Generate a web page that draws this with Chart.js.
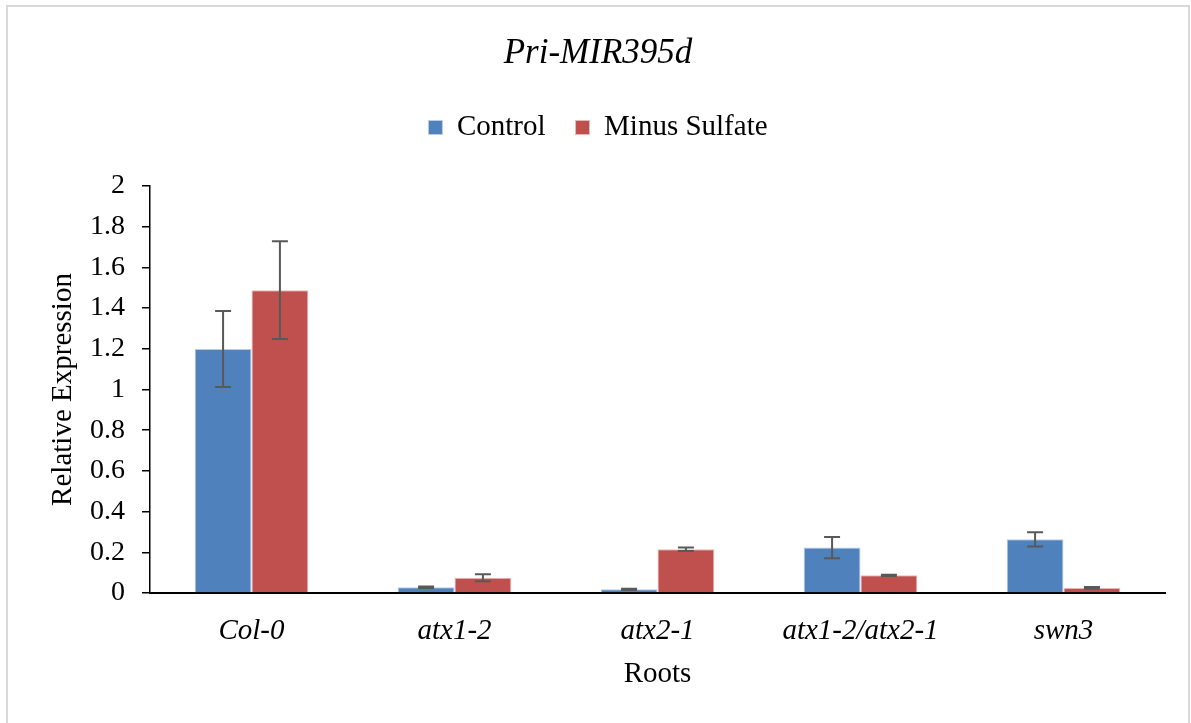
<!DOCTYPE html>
<html>
<head>
<meta charset="utf-8">
<script src="https://cdn.jsdelivr.net/npm/chart.js@4"></script>
<style>
  html, body { margin: 0; padding: 0; background: #ffffff; }
  #wrap { width: 1191px; height: 723px; position: relative; }
</style>
</head>
<body>
<div id="wrap"><canvas id="c" width="1191" height="723"></canvas></div>
<script>
const categories = ['Col-0', 'atx1-2', 'atx2-1', 'atx1-2/atx2-1', 'swn3'];
const controlValues = [1.199, 0.028, 0.018, 0.223, 0.264];
const controlErrors = [0.187, 0.004, 0.003, 0.052, 0.035];
const minusSulfateValues = [1.488, 0.075, 0.215, 0.087, 0.025];
const minusSulfateErrors = [0.240, 0.017, 0.008, 0.003, 0.004];
const yTicks = [0, 0.2, 0.4, 0.6, 0.8, 1, 1.2, 1.4, 1.6, 1.8, 2];

const serif = "'Liberation Serif', 'Times New Roman', serif";

const frame = {
  id: 'frame',
  beforeDraw(chart) {
    const ctx = chart.ctx;
    ctx.save();
    ctx.fillStyle = '#ffffff';
    ctx.fillRect(0, 0, chart.width, chart.height);
    ctx.strokeStyle = '#d9d9d9';
    ctx.lineWidth = 2;
    ctx.strokeRect(7, 6, 1182, 730);
    ctx.restore();
  }
};

const legendSpace = {
  id: 'legendSpace',
  beforeLayout(chart) {
    const lg = chart.legend;
    if (lg && !lg._patched) {
      const f = lg.fit;
      lg.fit = function () { f.call(this); this.height = 103; };
      lg._patched = true;
    }
  }
};

const errorBars = {
  id: 'errorBars',
  afterDatasetsDraw(chart) {
    const ctx = chart.ctx;
    const y = chart.scales.y;
    ctx.save();
    ctx.strokeStyle = '#595959';
    ctx.lineWidth = 2;
    chart.data.datasets.forEach((ds, di) => {
      const meta = chart.getDatasetMeta(di);
      meta.data.forEach((bar, i) => {
        const v = ds.data[i], e = ds.errors[i];
        const yt = y.getPixelForValue(v + e);
        const yb = y.getPixelForValue(v - e);
        const x = bar.x;
        ctx.beginPath();
        ctx.moveTo(x, yt); ctx.lineTo(x, yb);
        ctx.moveTo(x - 8, yt); ctx.lineTo(x + 8, yt);
        ctx.moveTo(x - 8, yb); ctx.lineTo(x + 8, yb);
        ctx.stroke();
      });
    });
    ctx.restore();
  }
};

new Chart(document.getElementById('c'), {
  type: 'bar',
  data: {
    labels: categories,
    datasets: [
      { label: 'Control', data: controlValues, errors: controlErrors,
        backgroundColor: '#4f81bd', borderColor: '#b9cde5', borderWidth: 1 },
      { label: 'Minus Sulfate', data: minusSulfateValues, errors: minusSulfateErrors,
        backgroundColor: '#c0504d', borderColor: '#e6b9b8', borderWidth: 1 }
    ]
  },
  options: {
    responsive: false,
    animation: false,
    devicePixelRatio: 1,
    layout: { padding: { left: 31, right: 26, top: 0, bottom: 0 } },
    datasets: { bar: { categoryPercentage: 0.56, barPercentage: 1.0 } },
    plugins: {
      title: {
        display: true,
        text: 'Pri-MIR395d',
        color: '#000000',
        font: { family: serif, size: 35, style: 'italic', weight: 'normal' },
        padding: { top: 33, bottom: 8 }
      },
      legend: {
        display: true,
        labels: {
          color: '#000000',
          font: { family: serif, size: 29 },
          boxWidth: 14, boxHeight: 14,
          padding: 30
        }
      },
      tooltip: { enabled: false }
    },
    scales: {
      x: {
        afterFit(scale) { scale.height = 130; },
        grid: { display: false },
        border: { display: true, color: '#000000', width: 2 },
        ticks: {
          color: '#000000',
          font: { family: serif, size: 29, style: 'italic' },
          padding: 13,
          maxRotation: 0
        },
        title: {
          display: true,
          text: 'Roots',
          color: '#000000',
          font: { family: serif, size: 29 },
          padding: { top: 0, bottom: 31 }
        }
      },
      y: {
        min: 0, max: 2,
        afterBuildTicks(scale) { scale.ticks = yTicks.map(v => ({ value: v })); },
        afterFit(scale) { scale.width = 119; },
        grid: { display: true, drawOnChartArea: false, drawTicks: true, tickLength: 8, color: '#000000', lineWidth: 1.5 },
        border: { display: true, color: '#000000', width: 1.5 },
        ticks: {
          color: '#000000',
          font: { family: serif, size: 28 },
          padding: 17,
          callback: (v) => String(v)
        },
        title: {
          display: true,
          text: 'Relative Expression',
          color: '#000000',
          font: { family: serif, size: 29 },
          padding: { top: 15, bottom: 0 }
        }
      }
    }
  },
  plugins: [frame, legendSpace, errorBars]
});
</script>
</body>
</html>
